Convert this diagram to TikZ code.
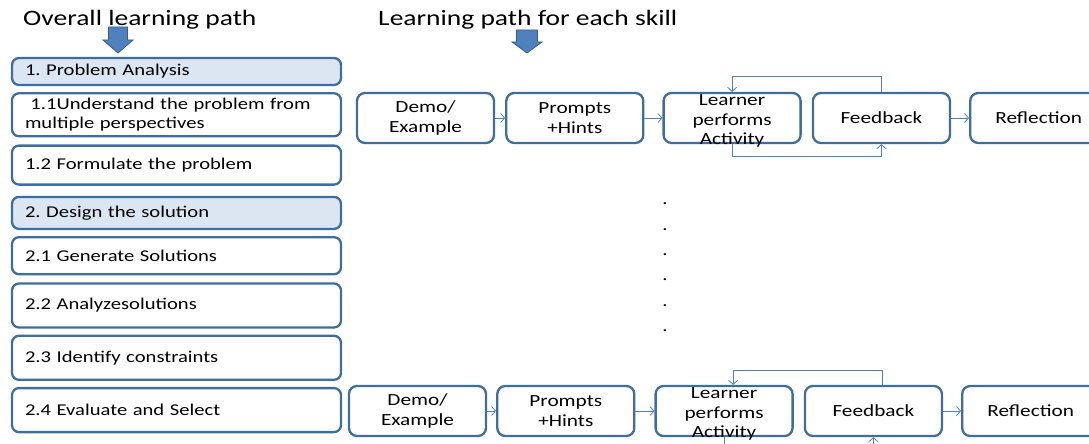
\documentclass[tikz,border=0pt]{standalone}
\usepackage{fontspec}
\setmainfont{Carlito}[FakeStretch=1.25]
\usepackage{tikz}
\usetikzlibrary {arrows.meta,
                 positioning}
\definecolor{boxblue}{HTML}{3F6E9E}
\definecolor{headfill}{HTML}{DCE6F2}
\definecolor{linkblue}{HTML}{4F81BD}
\definecolor{arrowedge}{HTML}{385D8A}
\tikzset{
        proc/.style={draw=boxblue, line width=2.3pt, rounded corners=7pt,
        align=left, text width=303pt, minimum width=329pt, inner xsep=13pt,
        inner ysep=0pt, font=\fontsize{16.5}{19.5}\selectfont},
        headbox/.style={proc, fill=headfill},
        stepbox/.style={draw=boxblue, line width=2.3pt, rounded corners=8pt,
        align=center, minimum width=137pt, minimum height=50pt,
        inner sep=0pt, font=\fontsize{17}{19.5}\selectfont},
        title/.style={anchor=base west, inner sep=0pt,
        font=\fontsize{22}{26}\selectfont},
        myarrow/.style={-{Straight Barb[length=4pt,width=9pt]},
        draw=linkblue, line width=0.8pt},
        blockarrow/.style={fill=linkblue, draw=arrowedge, line width=0.8pt},
 }

\begin{document}
\frenchspacing
\begin{tikzpicture}[x=1pt, y=-1pt]
    \useasboundingbox (0,0) rectangle (1089,444);
    \clip (0,0) rectangle (1089,444);

    % titles
    \node[title] (overall) at (23,26) {Overall learning path};
    \node[title] (perskill) at (378,26) {Learning path for each skill};

    \draw[blockarrow] (108.5,27) -- (127.5,27) -- (127.5,40) -- (133,40)
        -- (118,53) -- (103,40) -- (108.5,40) -- cycle;
    \draw[blockarrow] (516.5,30) -- (537.5,30) -- (537.5,42) -- (542,42)
        -- (527,53) -- (512,42) -- (516.5,42) -- cycle;

    % overall path
    \node[headbox, minimum height=27pt] (pa) at (176.5,71.5)
        {1. Problem Analysis};
    \node[proc, minimum height=43pt, below=6pt of pa] (understand)
        {~1.1Understand the problem from\\multiple perspectives};
    \node[proc, minimum height=39pt, below=7pt of understand] (formulate)
        {1.2 Formulate the problem};
    \node[headbox, minimum height=32pt, below=10pt of formulate] (design)
        {2. Design the solution};
    \node[proc, minimum height=37pt, below=6pt of design] (generate)
        {2.1 Generate Solutions};
    \node[proc, minimum height=44pt, below=7pt of generate] (analyze)
        {2.2 Analyzesolutions};
    \node[proc, minimum height=44pt, below=6pt of analyze] (constraints)
        {2.3 Identify constraints};
    \node[proc, minimum height=44pt, below=6pt of constraints] (evaluate)
        {2.4 Evaluate and Select};

    % first skill
    \node[stepbox] (demo1) at (425.5,118) {Demo/\\Example};
    \node[stepbox, right=10pt of demo1] (hints1) {Prompts\\+Hints};
    \node[stepbox, right=18pt of hints1] (learner1)
        {\parbox[c][40pt][c]{130pt}{\centering\vspace*{6pt}
         Learner\\performs\\Activity}};
    \node[stepbox, right=10pt of learner1] (feedback1) {Feedback};
    \node[stepbox, right=18pt of feedback1] (reflect1) {Reflection};

    \draw[myarrow] (demo1) -- (hints1);
    \draw[myarrow] (hints1) -- (learner1);
    \draw[myarrow] (feedback1) -- (reflect1);
    \draw[myarrow] (feedback1.north) |- ([yshift=15pt]learner1.north)
        -- (learner1.north);
    \draw[myarrow] (learner1.south) |- ([yshift=-12pt]feedback1.south)
        -- (feedback1.south);

    % dots
    \foreach \i in {0,...,5}
        \node[inner sep=0pt, font=\fontsize{16.5}{19.5}\selectfont]
            (dot\i) at (665,204+25.3*\i) {.};

    % last skill
    \node[stepbox] (demo2) at (417.5,411) {Demo/\\Example};
    \node[stepbox, right=9pt of demo2] (hints2) {Prompts\\+Hints};
    \node[stepbox, right=19pt of hints2] (learner2)
        {\parbox[c][40pt][c]{130pt}{\centering\vspace*{6pt}
         Learner\\performs\\Activity}};
    \node[stepbox, right=10pt of learner2] (feedback2) {Feedback};
    \node[stepbox, right=18pt of feedback2] (reflect2) {Reflection};

    \draw[myarrow] (demo2) -- (hints2);
    \draw[myarrow] (hints2) -- (learner2);
    \draw[myarrow] (feedback2) -- (reflect2);
    \draw[myarrow] ([xshift=9pt]feedback2.north)
        |- ([xshift=9pt,yshift=14pt]learner2.north)
        -- ([xshift=9pt]learner2.north);
    \draw[myarrow] (learner2.south) |- ([yshift=-14pt]feedback2.south)
        -- (feedback2.south);
\end{tikzpicture}
\end{document}
